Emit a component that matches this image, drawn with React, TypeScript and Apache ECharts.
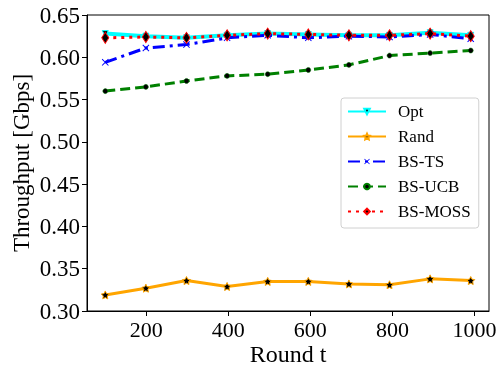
import React, { useEffect, useRef } from "react";
import * as echarts from "echarts";

const rounds = [100, 199, 298, 397, 496, 595, 694, 793, 892, 991];
const xTicks = [200, 400, 600, 800, 1000];
const optVals = [0.628, 0.625, 0.623, 0.626, 0.628, 0.627, 0.626, 0.626, 0.629, 0.626];
const randVals = [0.319, 0.327, 0.336, 0.329, 0.335, 0.335, 0.332, 0.331, 0.338, 0.336];
const tsVals = [0.594, 0.611, 0.615, 0.623, 0.626, 0.623, 0.625, 0.624, 0.627, 0.622];
const ucbVals = [0.560, 0.565, 0.572, 0.578, 0.580, 0.585, 0.591, 0.602, 0.605, 0.608];
const mossVals = [0.623, 0.624, 0.623, 0.626, 0.628, 0.627, 0.626, 0.626, 0.628, 0.625];

const FONT = "'Liberation Serif', 'Times New Roman', serif";

const STAR =
  "path://M0,-10 L2.9,-4 9.5,-3.1 4.8,1.5 5.9,8.1 0,5 -5.9,8.1 -4.8,1.5 -9.5,-3.1 -2.9,-4Z";
const XMARK =
  "path://M-10,-8 L-8,-10 0,-2 8,-10 10,-8 2,0 10,8 8,10 0,2 -8,10 -10,8 -2,0Z";

function pairs(vals: number[]) {
  return rounds.map((r, i) => [r, vals[i]]);
}

export default function App() {
  const ref = useRef<HTMLDivElement>(null);
  useEffect(() => {
    if (!ref.current) return;
    const chart = echarts.init(ref.current, null, { renderer: "svg" });
    const common = { type: "line", showSymbol: true, z: 2 };
    chart.setOption({
      animation: false,
      textStyle: { fontFamily: FONT },
      grid: {
        left: 87,
        right: 9,
        top: 15,
        bottom: 55,
        containLabel: false,
        outerBoundsMode: "none",
        show: true,
        borderColor: "#000",
        borderWidth: 1,
        backgroundColor: "transparent",
      },
      xAxis: {
        type: "value",
        min: 55.45,
        max: 1035.55,
        name: "Round t",
        nameLocation: "middle",
        nameGap: 32,
        nameMoveOverlap: false,
        nameTextStyle: { fontFamily: FONT, fontSize: 24, lineHeight: 22, color: "#000" },
        axisLine: { show: true, lineStyle: { color: "#000", width: 1 } },
        axisTick: { show: true, length: 5, customValues: xTicks, lineStyle: { color: "#000" } },
        axisLabel: {
          customValues: xTicks,
          fontFamily: FONT,
          fontSize: 22,
          lineHeight: 18,
          color: "#000",
          margin: 9,
          formatter: (v: number) => String(Math.round(v)),
        },
        splitLine: { show: false },
      },
      yAxis: {
        type: "value",
        min: 0.3,
        max: 0.65,
        interval: 0.05,
        name: "Throughput [Gbps]",
        nameLocation: "middle",
        nameGap: 54,
        nameMoveOverlap: false,
        nameTextStyle: { fontFamily: FONT, fontSize: 23, color: "#000" },
        axisLine: { show: true, lineStyle: { color: "#000", width: 1 } },
        axisTick: { show: true, length: 5, lineStyle: { color: "#000" } },
        axisLabel: {
          fontFamily: FONT,
          fontSize: 23,
          color: "#000",
          margin: 7,
          formatter: (v: number) => v.toFixed(2),
        },
        splitLine: { show: false },
      },
      legend: {
        left: 341,
        top: 98,
        orient: "vertical",
        backgroundColor: "rgba(255,255,255,0.8)",
        borderColor: "#d0d0d0",
        borderWidth: 1,
        borderRadius: 3,
        padding: [5, 8, 8, 6],
        itemWidth: 38,
        itemHeight: 7,
        itemGap: 8,
        textStyle: {
          fontFamily: FONT,
          fontSize: 17,
          lineHeight: 17,
          color: "#000",
          padding: [0, 0, 0, 7],
        },
        data: ["Opt", "Rand", "BS-TS", "BS-UCB", "BS-MOSS"],
      },
      series: [
        {
          ...common,
          name: "Opt",
          data: pairs(optVals),
          symbol: "triangle",
          symbolRotate: 180,
          symbolSize: 6,
          lineStyle: { color: "#00ffff", width: 4, type: "solid" },
          itemStyle: { color: "#000", borderColor: "#00ffff", borderWidth: 1 },
        },
        {
          ...common,
          name: "Rand",
          data: pairs(randVals),
          symbol: STAR,
          symbolSize: 8,
          lineStyle: { color: "#ffa500", width: 3, type: "solid" },
          itemStyle: { color: "#000", borderColor: "#ffa500", borderWidth: 1 },
        },
        {
          ...common,
          name: "BS-TS",
          data: pairs(tsVals),
          symbol: XMARK,
          symbolSize: 7,
          lineStyle: { color: "#0000ff", width: 3, type: [12, 5, 3, 5] },
          itemStyle: { color: "#0000ff", borderColor: "#0000ff", borderWidth: 0 },
        },
        {
          ...common,
          name: "BS-UCB",
          data: pairs(ucbVals),
          symbol: "circle",
          symbolSize: 5,
          lineStyle: { color: "#008000", width: 3, type: [10, 5] },
          itemStyle: { color: "#000", borderColor: "#008000", borderWidth: 0.5 },
        },
        {
          ...common,
          name: "BS-MOSS",
          data: pairs(mossVals),
          symbol: "diamond",
          symbolSize: [7, 11],
          lineStyle: { color: "#ff0000", width: 3, type: [3, 5] },
          itemStyle: { color: "#000", borderColor: "#ff0000", borderWidth: 1 },
        },
      ],
    });
    return () => chart.dispose();
  }, []);
  return (
    <div
      ref={ref}
      style={{ position: "fixed", left: 0, top: 0, width: 498, height: 366 }}
    />
  );
}
